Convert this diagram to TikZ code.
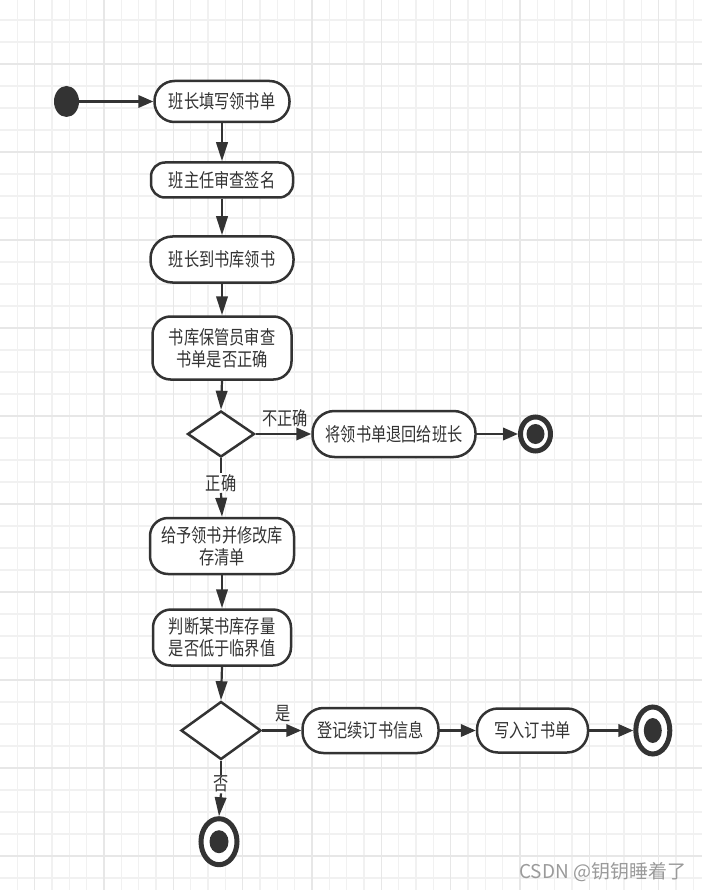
\documentclass[tikz,border=0pt]{standalone}
\usepackage{fontspec}
\usetikzlibrary{arrows.meta,shapes.geometric}
\newfontfamily\cjk[FakeStretch=0.8]{Noto Sans CJK SC}
\newfontfamily\markfont{Noto Sans CJK SC}
\definecolor{ink}{HTML}{333333}
\definecolor{gridminor}{HTML}{F1F1F1}
\definecolor{gridmajor}{HTML}{E7E7E7}
\definecolor{markgrey}{HTML}{9A9A9A}
\tikzset{
  every node/.style={text=ink},
  activity/.style={draw=ink, fill=white, line width=2.5pt, align=center,
    inner sep=0pt, font=\cjk\fontsize{19}{22}\selectfont},
  decision/.style={diamond, draw=ink, fill=white, line width=2.5pt,
    inner sep=0pt},
  startdot/.style={ellipse, fill=ink, inner sep=0pt,
    minimum width=25pt, minimum height=31pt},
  endring/.style={ellipse, draw=ink, fill=white, line width=5pt, inner sep=0pt},
  enddot/.style={ellipse, fill=ink, inner sep=0pt},
  flow/.style={-{Triangle[length=15pt,width=12.5pt]}, draw=ink, line width=2.2pt},
  flowdown/.style={-{Triangle[length=19pt,width=11.5pt]}, draw=ink, line width=2.2pt},
  plainline/.style={draw=ink, line width=2.2pt},
  guardlabel/.style={font=\cjk\fontsize{19}{22}\selectfont, inner sep=1pt}
}

\begin{document}
\begin{tikzpicture}[x=1pt,y=-1pt]

% ---------------------------------------------------------------------------
% Canvas: white page with the light editor grid.
% ---------------------------------------------------------------------------
\useasboundingbox (0,0) rectangle (702,890);
\fill[white] (0,0) rectangle (702,890);
\foreach \gx in {1,...,40}
  \draw[gridminor, line width=1.1pt] (17.333*\gx,0) -- (17.333*\gx,890);
\foreach \gy in {1,...,40}
  \draw[gridminor, line width=1.1pt] (0,-2+22*\gy) -- (702,-2+22*\gy);
\foreach \gx in {0,...,9}
  \draw[gridmajor, line width=1.3pt] (34.667+69.333*\gx,0) -- (34.667+69.333*\gx,890);
\foreach \gy in {1,...,10}
  \draw[gridmajor, line width=1.3pt] (0,-24+88*\gy) -- (702,-24+88*\gy);

% ---------------------------------------------------------------------------
% Main column: requisition and check of the book list.
% ---------------------------------------------------------------------------
\node[startdot] (start) at (66.5,101.5) {};

\node[activity, rounded corners=20pt, minimum width=135pt, minimum height=41pt]
  (fill) at (222,101.5) {班长填写领书单};
\node[activity, rounded corners=14pt, minimum width=142pt, minimum height=35pt]
  (sign) at (222,180) {班主任审查签名};
\node[activity, rounded corners=22pt, minimum width=143pt, minimum height=46pt]
  (fetch) at (222,259.5) {班长到书库领书};
\node[activity, rounded corners=18pt, minimum width=139pt, minimum height=63pt]
  (check) at (222,348) {书库保管员审查\\书单是否正确};

\node[decision, minimum width=67pt, minimum height=46pt] (okgate) at (221,434) {};

\draw[flow] (start) -- (fill);
\draw[flowdown] (fill.south) -- (sign.north);
\draw[flowdown] (sign.south) -- (fetch.north);
\draw[flowdown] (fetch.south) -- (check.north);
\draw[flowdown] (check.south) -- (okgate.north);

% Wrong list: sent back to the monitor.
\node[activity, rounded corners=22pt, minimum width=163pt, minimum height=46pt]
  (back) at (394,434) {将领书单退回给班长};
\node[endring, minimum width=30pt, minimum height=34pt] (endA) at (535.5,434) {};
\node[enddot, minimum width=18pt, minimum height=20pt] (endAdot) at (endA) {};

\node[guardlabel] (lblwrong) at (285,418) {不正确};
\draw[flow] (okgate.east) -- (back.west);
\draw[flow] (back.east) -- (endA.west);

% ---------------------------------------------------------------------------
% Correct list: hand out books and check the stock level.
% ---------------------------------------------------------------------------
\node[guardlabel] (lblright) at (221,483) {正确};

\node[activity, rounded corners=18pt, minimum width=144pt, minimum height=56pt]
  (issue) at (222,546) {给予领书并修改库\\存清单};
\node[activity, rounded corners=18pt, minimum width=138pt, minimum height=56pt]
  (stock) at (222,637.5) {判断某书库存量\\是否低于临界值};

\node[decision, minimum width=80pt, minimum height=58pt] (lowgate) at (221,730.5) {};

\draw[plainline] (okgate.south) -- (lblright.north);
\draw[flowdown] (lblright.south) -- (issue.north);
\draw[flowdown] (issue.south) -- (stock.north);
\draw[flowdown] (stock.south) -- (lowgate.north);

% Below threshold: register and write the order.
\node[guardlabel] (lblyes) at (283,714) {是};

\node[activity, rounded corners=21pt, minimum width=136pt, minimum height=45pt]
  (register) at (370.5,730.5) {登记续订书信息};
\node[activity, rounded corners=21pt, minimum width=111pt, minimum height=44pt]
  (order) at (532.5,730.5) {写入订书单};
\node[endring, minimum width=34pt, minimum height=47pt] (endB) at (652.8,730.5) {};
\node[enddot, minimum width=18pt, minimum height=25pt] (endBdot) at (endB) {};

\draw[flow] (lowgate.east) -- (register.west);
\draw[flow] (register.east) -- (order.west);
\draw[flow] (order.east) -- (endB.west);

% Enough stock: finish.
\node[guardlabel] (lblno) at (221,784) {否};
\node[endring, minimum width=36pt, minimum height=46pt] (endC) at (219,841.7) {};
\node[enddot, minimum width=19pt, minimum height=23pt] (endCdot) at (endC) {};

\draw[plainline] (lowgate.south) -- (lblno.north);
\draw[flowdown] (lblno.south) -- (endC.north);

% Site watermark.
\node[font=\markfont\fontsize{19}{19}\selectfont, text=markgrey, anchor=west,
  inner sep=0pt] (mark) at (519,872) {CSDN @钥钥睡着了};

\end{tikzpicture}
\end{document}
